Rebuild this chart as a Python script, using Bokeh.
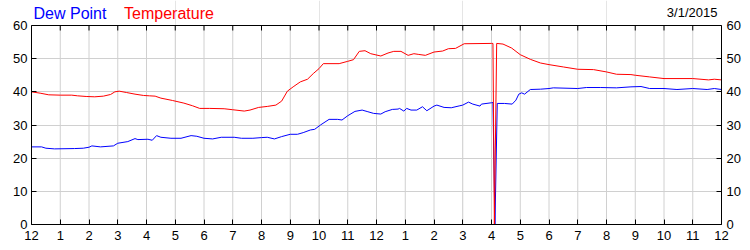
from bokeh.plotting import figure
from bokeh.models import Range1d, LinearAxis, FixedTicker, Label, Grid, Span
from bokeh.embed import file_html
from bokeh.resources import INLINE

# ---- data (hours since midnight, degrees F) ----
temp_hours = [0, 0.3, 0.6, 1.0, 1.4, 1.6, 1.9, 2.2, 2.5, 2.75, 2.9, 3.05, 3.3, 3.6, 3.9, 4.1, 4.3,
              4.5, 4.9, 5.3, 5.6, 5.85, 6.2, 6.7, 7.0, 7.4, 7.6, 7.9, 8.2, 8.5, 8.7, 8.9, 9.1,
              9.35, 9.6, 9.8, 10.0, 10.15, 10.7, 11.0, 11.2, 11.4, 11.6, 11.8, 12.15, 12.4, 12.6,
              12.85, 13.1, 13.3, 13.45, 13.7, 14.0, 14.3, 14.5, 14.75, 15.05, 16.0, 16.05, 16.1,
              16.18, 16.4, 16.7, 17.0, 17.35, 17.7, 18.0, 18.5, 19.0, 19.55, 20.0, 20.35, 20.85,
              21.0, 21.5, 22.0, 23.0, 23.55, 23.75, 24.0]
temp_values = [40.0, 39.6, 39.1, 39.0, 39.0, 38.8, 38.6, 38.5, 38.7, 39.2, 40.0, 40.2, 39.8, 39.3,
               38.9, 38.8, 38.7, 38.1, 37.4, 36.6, 35.8, 35.0, 35.0, 34.9, 34.6, 34.2, 34.5, 35.3,
               35.6, 36.0, 37.2, 40.2, 41.5, 43.0, 43.8, 45.5, 47.0, 48.5, 48.5, 49.2, 49.7, 52.2,
               52.4, 51.5, 50.8, 51.7, 52.2, 52.2, 51.0, 51.5, 51.3, 51.0, 52.0, 52.3, 53.0, 53.1,
               54.5, 54.6, 54.6, 0.0, 54.6, 54.4, 53.2, 51.2, 49.8, 48.7, 48.2, 47.5, 46.8, 46.7,
               46.0, 45.3, 45.2, 45.0, 44.5, 44.0, 44.0, 43.6, 43.8, 43.6]

dew_hours = [0, 0.35, 0.5, 0.8, 1.5, 1.8, 2.0, 2.1, 2.4, 2.85, 3.0, 3.35, 3.6, 3.7, 4.05, 4.2, 4.35,
             4.5, 4.85, 5.2, 5.55, 5.75, 6.0, 6.3, 6.6, 7.05, 7.3, 7.7, 8.0, 8.2, 8.45, 8.7, 9.0,
             9.25, 9.45, 9.7, 9.85, 10.05, 10.35, 10.65, 10.8, 11.0, 11.25, 11.5, 11.7, 11.9,
             12.15, 12.3, 12.55, 12.75, 12.8, 12.95, 13.05, 13.2, 13.4, 13.6, 13.75, 14.0, 14.1,
             14.35, 14.6, 14.9, 15.0, 15.2, 15.35, 15.6, 15.65, 16.0, 16.05, 16.12, 16.2, 16.45,
             16.72, 16.85, 16.95, 17.05, 17.15, 17.35, 17.7, 18.0, 18.15, 19.0, 19.3, 19.8, 20.35,
             20.85, 21.2, 21.5, 22.0, 22.45, 23.0, 23.5, 23.75, 24.0]
dew_values = [23.4, 23.4, 23.0, 22.8, 22.9, 23.0, 23.3, 23.7, 23.4, 23.7, 24.5, 25.0, 25.9, 25.6,
              25.7, 25.4, 26.8, 26.3, 26.0, 26.0, 26.8, 26.6, 26.0, 25.8, 26.3, 26.3, 26.0, 26.0,
              26.2, 26.3, 25.8, 26.5, 27.2, 27.2, 27.7, 28.5, 28.7, 30.0, 31.7, 31.7, 31.5, 32.8,
              34.1, 34.5, 34.0, 33.5, 33.3, 34.0, 34.7, 34.8, 35.0, 34.2, 35.0, 34.5, 34.5, 35.5,
              34.3, 35.7, 36.0, 35.3, 35.2, 35.8, 36.0, 36.9, 36.3, 35.7, 36.3, 36.7, 36.8, 0.0,
              36.5, 36.5, 36.3, 37.5, 39.3, 39.7, 39.3, 40.7, 40.8, 41.0, 41.2, 41.0, 41.3, 41.3,
              41.2, 41.5, 41.6, 41.0, 41.0, 40.7, 41.0, 40.7, 41.0, 40.7]

x_ticks = list(range(0, 25))
x_tick_labels = ["12", "1", "2", "3", "4", "5", "6", "7", "8", "9", "10", "11",
                 "12", "1", "2", "3", "4", "5", "6", "7", "8", "9", "10", "11", "12"]
y_ticks = [0, 10, 20, 30, 40, 50, 60]

series_names = ["Dew Point", "Temperature"]
date_label = "3/1/2015"

FONT = "Liberation Sans"
GRID = "#d0d0d0"

W, H = 750, 250
BOTTOM = 26          # px below the plot area
PLOT_TOP_PX = 25     # px above the plot area (header band inside the frame)
Y_MAX = y_ticks[-1]
frame_h = H - BOTTOM
plot_h = frame_h - PLOT_TOP_PX
units_per_px = Y_MAX / plot_h
y_top = frame_h * units_per_px   # frame extends above the 0..60 plot area for the header texts
TICK_PX = 5

p = figure(width=W, height=H, output_backend="svg", toolbar_location=None, title=None,
           x_range=Range1d(0, 24), y_range=Range1d(0, y_top),
           min_border_left=31, min_border_right=29, min_border_top=0, min_border_bottom=BOTTOM,
           x_axis_location=None, y_axis_location=None)
p.outline_line_color = None
p.background_fill_color = "white"
p.border_fill_color = "white"

xt = FixedTicker(ticks=x_ticks)
yt = FixedTicker(ticks=y_ticks)

def style(ax):
    ax.axis_line_color = "black"
    ax.axis_line_width = 1
    ax.major_tick_in = TICK_PX
    ax.major_tick_out = 0
    ax.major_tick_line_color = "black"
    ax.minor_tick_line_color = None
    ax.major_label_text_font = FONT
    ax.major_label_text_font_size = "13px"
    ax.major_label_text_color = "black"
    ax.major_label_standoff = 5
    ax.axis_label_standoff = 0

bx = LinearAxis(ticker=xt, major_label_overrides={i: s for i, s in zip(x_ticks, x_tick_labels)})
style(bx)
bx.major_label_standoff = 6
p.add_layout(bx, "below")
ly = LinearAxis(ticker=yt, bounds=(0, Y_MAX))
style(ly)
ly.major_label_standoff = 4
p.add_layout(ly, "left")
ry = LinearAxis(ticker=yt, bounds=(0, Y_MAX))
style(ry)
p.add_layout(ry, "right")

# horizontal grid (inner values only)
p.add_layout(Grid(dimension=1, ticker=FixedTicker(ticks=y_ticks[1:-1]), grid_line_color=GRID))
# vertical grid limited to the 0..60 plot area
inner_x = x_ticks[1:-1]
p.segment(x0=inner_x, y0=[0] * len(inner_x), x1=inner_x, y1=[Y_MAX] * len(inner_x),
          line_color=GRID, line_width=1)

# top border with inward ticks
p.add_layout(Span(location=Y_MAX, dimension="width", line_color="black", line_width=1))
p.segment(x0=x_ticks, y0=[Y_MAX] * len(x_ticks), x1=x_ticks,
          y1=[Y_MAX - TICK_PX * units_per_px] * len(x_ticks), line_color="black", line_width=1)

p.line(dew_hours, dew_values, line_color="#0000ff", line_width=1)
p.line(temp_hours, temp_values, line_color="#ff0000", line_width=1)

# header texts (Label draws ~5px lower than its nominal baseline, so aim higher)
base_y = (frame_h - 12.7) * units_per_px
p.add_layout(Label(x=0.07, y=base_y, text=series_names[0], text_color="#0000ff",
                   text_font=FONT, text_font_size="16px", text_baseline="alphabetic"))
p.add_layout(Label(x=3.22, y=base_y, text=series_names[1], text_color="#ff0000",
                   text_font=FONT, text_font_size="16px", text_baseline="alphabetic"))
p.add_layout(Label(x=23.86, y=(frame_h - 11.7) * units_per_px, text=date_label, text_color="black",
                   text_font=FONT, text_font_size="13px", text_baseline="alphabetic",
                   text_align="right"))

open("out.html", "w").write(file_html(p, INLINE))
